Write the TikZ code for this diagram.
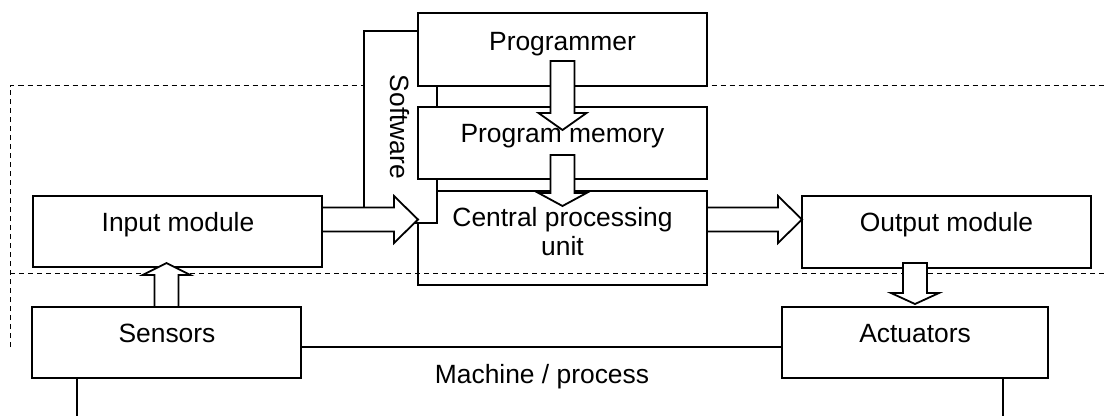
\documentclass[tikz,border=0pt]{standalone}
\usepackage{fontspec}
\setmainfont{Liberation Sans}
\usetikzlibrary{calc}
\tikzset{
  box/.style={draw, line width=1.8pt, fill=white, rectangle, inner sep=0pt, outer sep=0pt},
  barrow/.style={draw, line width=1.8pt, fill=white, line join=miter, miter limit=10},
  lbl/.style={font=\fontsize{26.4}{29}\selectfont, inner sep=0pt, anchor=base, align=center},
  dline/.style={line width=1pt, dash pattern=on 5pt off 4pt},
  wire/.style={line width=1.8pt},
}
% right-pointing block arrow: #1 tail (shaft centre), #2 tip
\newcommand\ArrowR[2]{%
  \draw[barrow] ($(#1)+(0,-12)$) -- ($(#2)+(-24,-12)$) -- ($(#2)+(-24,-23.5)$) -- (#2)
    -- ($(#2)+(-24,23.5)$) -- ($(#2)+(-24,12)$) -- ($(#1)+(0,12)$) -- cycle;}
% vertical block arrow: #1 tail, #2 tip, #3 signed offset of head base from tip
\newcommand\ArrowV[3]{%
  \draw[barrow] ($(#1)+(-12,0)$) -- ($(#2)+(-12,#3)$) -- ($(#2)+(-24,#3)$) -- (#2)
    -- ($(#2)+(24,#3)$) -- ($(#2)+(12,#3)$) -- ($(#1)+(12,0)$) -- cycle;}
\begin{document}
\begin{tikzpicture}[x=1pt,y=-1pt]
\useasboundingbox (0,0) rectangle (1107,416);
% CPU (under the dashed line and software box)
\node[box, minimum width=289pt, minimum height=94pt] (cpu) at (562.5,238) {};
% dashed boundaries
\coordinate (dA) at (10,347);
\coordinate (dB) at (10,85.5);
\coordinate (dC) at (1107,85.5);
\coordinate (dD) at (10,273.5);
\coordinate (dE) at (1107,273.5);
\draw[dline] (dA) -- (dB) -- (dC);
\draw[dline] (dD) -- (dE);
% software box
\node[box, minimum width=73pt, minimum height=192pt] (soft) at (400.5,127) {};
% programmer / program memory
\node[box, minimum width=289pt, minimum height=73pt] (prog) at (562.5,49.5) {};
\node[box, minimum width=289pt, minimum height=72pt] (mem) at (562.5,143) {};
% modules
\node[box, minimum width=289pt, minimum height=71pt] (in) at (177.5,231.5) {};
\node[box, minimum width=289pt, minimum height=72pt] (out) at (946.5,232) {};
\node[box, minimum width=269pt, minimum height=71pt] (sens) at (166.5,342.5) {};
\node[box, minimum width=266pt, minimum height=71pt] (act) at (915,342.5) {};
% machine / process lines
\draw[wire] ($(sens.east)+(0,4.5)$) -- ($(act.west)+(0,4.5)$);
\coordinate (bl) at (77,416);
\coordinate (br) at (1003,416);
\draw[wire] (bl |- sens.south) -- (bl);
\draw[wire] (br |- act.south) -- (br);
% block arrows
\coordinate (a1s) at ($(in.east)+(0,-12)$);
\ArrowR{a1s}{cpu.west |- a1s}
\coordinate (a2s) at ($(cpu.east)+(0,-18.5)$);
\ArrowR{a2s}{out.west |- a2s}
\coordinate (a3s) at ($(prog.south)+(0,-25)$);
\coordinate (a3e) at ($(mem.north)+(0,23)$);
\ArrowV{a3s}{a3e}{-17}
\coordinate (a4s) at ($(mem.south)+(0,-24)$);
\coordinate (a4e) at ($(cpu.north)+(0,15)$);
\ArrowV{a4s}{a4e}{-13}
\coordinate (a5e) at ($(sens.north |- in.south)+(0,-4)$);
\ArrowV{sens.north}{a5e}{12}
\coordinate (a6s) at ($(act.north |- out.south)+(0,-5)$);
\coordinate (a6e) at ($(act.north)+(0,-3)$);
\ArrowV{a6s}{a6e}{-11}
% labels
\node[lbl] (tprog) at (562.5,50) {Programmer};
\node[lbl] (tmem) at (562.5,142) {Program memory};
\node[lbl] (tcpu) at (562.5,255) {Central processing\\unit};
\node[lbl] (tin) at (178,231) {Input module};
\node[lbl] (tout) at (946.5,231) {Output module};
\node[lbl] (tsens) at (167,342) {Sensors};
\node[lbl] (tact) at (915,342) {Actuators};
\node[lbl] (tmach) at (542,383) {Machine / process};
\node[lbl, anchor=center, rotate=-90] (tsoft) at (400,127) {Software};
\end{tikzpicture}
\end{document}
